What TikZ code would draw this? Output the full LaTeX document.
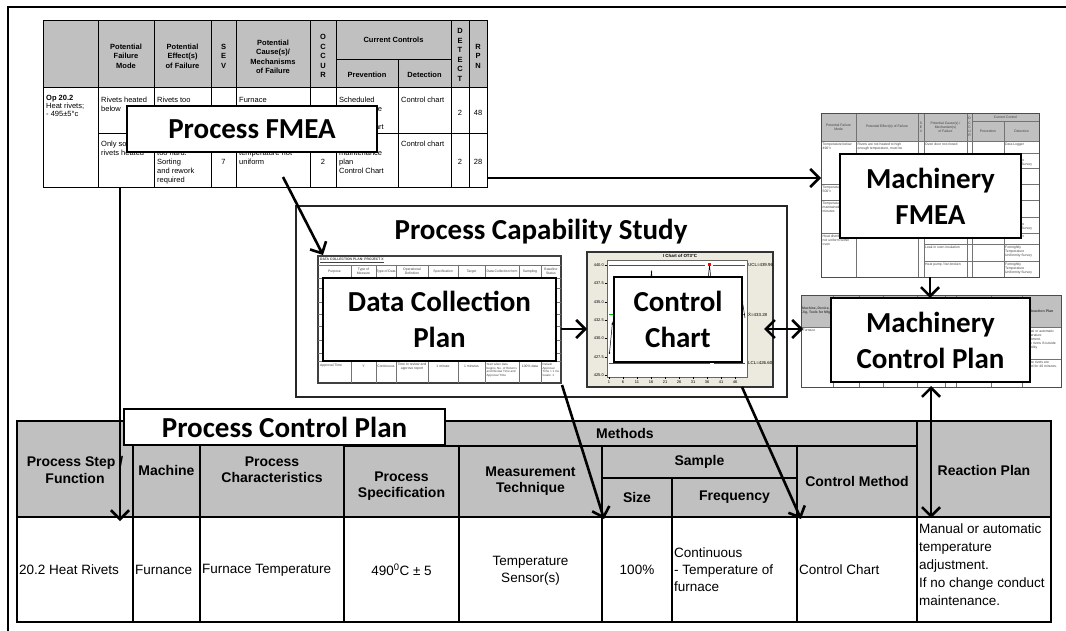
\documentclass[tikz,border=0pt]{standalone}
\usepackage{fontspec}
\setmainfont{Liberation Sans}
\newfontfamily\cfont{Carlito}
\usetikzlibrary{arrows.meta}
\newcommand\fsz[2]{\fontsize{#1}{#2}\selectfont}
\definecolor{hdr}{HTML}{C0C0C0}
\definecolor{beige}{HTML}{ECE9DF}
\begin{document}
\begin{tikzpicture}[x=1pt,y=-1pt,
 lbl/.style={draw=black,line width=1.8pt,fill=white,font=\cfont\bfseries\fsz{29}{36},align=center,inner sep=0pt},
 arr/.style={line width=2.6pt,-{Straight Barb[length=9pt,width=18pt]}},
 darr/.style={line width=2.6pt,{Straight Barb[length=9pt,width=18pt]}-{Straight Barb[length=9pt,width=18pt]}},
 tl/.style={line width=1pt,black},
 th/.style={line width=1.6pt,black},
 fh/.style={font=\bfseries\fsz{7.5}{9.5},align=center,inner sep=0pt},
 fb/.style={font=\fsz{7.5}{9},align=left,anchor=north west,inner sep=0pt},
 fc/.style={font=\fsz{7.5}{9},inner sep=0pt},
 ch/.style={font=\bfseries\fsz{14}{16.5},align=center,inner sep=0pt},
 cb/.style={font=\fsz{13.5}{17},align=left,inner sep=0pt},
 tiny/.style={font=\fsz{3.4}{4.1},align=center,inner sep=0pt,text=black!75},
 tinyl/.style={font=\fsz{3.4}{4.1},align=left,anchor=north west,inner sep=0pt,text=black!75},
 grid/.style={line width=0.4pt,black!55},
 bgline/.style={line width=1.2pt,black!75},
]
\useasboundingbox (0,0) rectangle (1066,631);
\fill[white] (0,0) rectangle (1066,631);

% outer frame
\draw[line width=1.3pt] (8,631) -- (8,7) -- (1066,7);

% ================= Process FMEA table =================
\fill[hdr] (43,21) rectangle (487,88);
\foreach \x in {98,154,211,236,310,336,451,469} \draw[tl] (\x,21) -- (\x,188);
\draw[tl] (398,60) -- (398,188);
\draw[tl] (336,60) -- (451,60);
\draw[tl] (43,88) -- (487,88);
\draw[tl] (98,134) -- (487,134);
\draw[tl] (43,21) rectangle (487,188);

\node[fh] (fh1) at (126,56) {Potential\\Failure\\Mode};
\node[fh] (fh2) at (182.5,56) {Potential\\Effect(s)\\of Failure};
\node[fh] (fh3) at (223.5,56) {S\\E\\V};
\node[fh] (fh4) at (273,57) {Potential\\Cause(s)/\\Mechanisms\\of Failure};
\node[fh] (fh5) at (323,56) {O\\C\\C\\U\\R};
\node[fh] (fh6) at (393.5,40) {Current Controls};
\node[fh] (fh7) at (367,75) {Prevention};
\node[fh] (fh8) at (424.5,75) {Detection};
\node[fh] (fh9) at (460,55) {D\\E\\T\\E\\C\\T};
\node[fh] (fh10) at (478,56) {R\\P\\N};

\node[fb,font=\fsz{7.5}{8}] (fb1) at (46,95.3) {\textbf{Op 20.2}\\Heat rivets;\\- 495±5°c};
\node[fb] (fb2) at (101,97.3) {Rivets heated\\below};
\node[fb] (fb3) at (157,97.3) {Rivets too};
\node[fb] (fb4) at (239,97.3) {Furnace};
\node[fb] (fb5) at (339,97.3) {Scheduled\\maintenance\\\phantom{plan}\\Control Chart};
\node[fb] (fb6) at (401,97.3) {Control chart};
\node[fc] (fb7) at (460,113) {2};
\node[fc] (fb8) at (478,113) {48};

\node[fb] (fc1) at (101,141.3) {Only some\\rivets heated};
\node[fb] (fc2) at (157,150.3) {too hard.\\Sorting\\and rework\\required};
\node[fc] (fc3) at (223.5,162) {7};
\node[fb] (fc4) at (239,150.3) {temperature not\\uniform};
\node[fc] (fc5) at (323,162) {2};
\node[fb] (fc6) at (339,150.3) {maintenance\\plan\\Control Chart};
\node[fb] (fc7) at (401,141.3) {Control chart};
\node[fc] (fc8) at (460,162) {2};
\node[fc] (fc9) at (478,162) {28};

\node[lbl,minimum width=250pt,minimum height=46pt] (pfmea) at (252,129) {Process FMEA};

% ================= Process Capability Study =================
\draw[line width=1.4pt,black!85] (296,206) rectangle (787,397);
\node[font=\cfont\bfseries\fsz{29}{36},inner sep=0pt] (pcs) at (541,232) {Process Capability Study};

% --- data collection plan sheet
\draw[bgline,fill=white] (318,256) rectangle (561,383);
\node[font=\bfseries\fsz{3.4}{4},anchor=west,inner sep=0pt,text=black!75] (dct) at (320,260.5) {\underline{DATA COLLECTION PLAN: PROJECT X}};
\draw[grid] (318,265) -- (561,265);
\foreach \x in {351,376,396,428,458,485,519,541} \draw[grid] (\x,265) -- (\x,383);
\foreach \y in {278,288,302,314,326,340,353,361} \draw[grid] (318,\y) -- (561,\y);
\node[tiny] (dh1) at (334.5,271.5) {Purpose};
\node[tiny] (dh2) at (363.5,271.5) {Type of\\Measure};
\node[tiny] (dh3) at (386,271.5) {Type of Data};
\node[tiny] (dh4) at (412,271.5) {Operational\\Definition};
\node[tiny] (dh5) at (443,271.5) {Specification};
\node[tiny] (dh6) at (471.5,271.5) {Target};
\node[tiny] (dh7) at (502,271.5) {Data Collection form};
\node[tiny] (dh8) at (530,271.5) {Sampling};
\node[tiny] (dh9) at (551,271.5) {Baseline\\Status};
\node[tinyl] (dr1) at (320,363.5) {Approval Time};
\node[tiny] (dr2) at (363.5,366) {Y};
\node[tiny] (dr3) at (386,366) {Continuous};
\node[tiny] (dr4) at (412,367) {Time to review and\\approve report};
\node[tiny] (dr5) at (443,366) {1 minute};
\node[tiny] (dr6) at (471.5,366) {1 minutes};
\node[tinyl,font=\fsz{3}{3.7}] (dr7) at (486.5,363) {Start when data\\begins, No. of Returns\\and Review Time and\\Approval Time};
\node[tiny] (dr8) at (530,366) {100\% data};
\node[tinyl,font=\fsz{3}{3.7}] (dr9) at (542.5,363) {Default\\Approval\\Time < 1 ms\\Goals: 1};
\node[lbl,minimum width=233pt,minimum height=83pt] (dcp) at (439.5,319.5) {Data Collection\\Plan};

% --- control chart sheet
\fill[beige] (587,252) rectangle (773,387);
\draw[line width=1.4pt,black!80] (587,252) rectangle (773,387);
\node[font=\bfseries\fsz{4.4}{5},inner sep=0pt] (cct) at (680,256) {I Chart of OT3°C};
\draw[line width=0.5pt,black!60,fill=white] (607,260) rectangle (747,377);
\foreach \v/\yy [count=\i] in {440.0/265,437.5/283.3,435.0/301.7,432.5/320,430.0/338.3,427.5/356.7,425.0/375} {
  \draw[line width=0.4pt] (604.5,\yy) -- (607,\yy);
  \node[font=\fsz{4}{4.5},anchor=east,inner sep=0pt] (yt\i) at (604,\yy) {\v};
}
\foreach \n [count=\i, evaluate=\n as \xx using 609+(\n-1)*2.8] in {1,6,11,16,21,26,31,36,41,46} {
  \draw[line width=0.4pt] (\xx,377) -- (\xx,379);
  \node[font=\fsz{4}{4.5},inner sep=0pt] (xt\i) at (\xx,382) {\n};
}
\draw[red,line width=0.9pt] (609,265.3) -- (705,265.3) (713,265.3) -- (745,265.3);
\draw[red,line width=0.9pt] (609,363.3) -- (710,363.3) (714,363.3) -- (745,363.3);
\draw[green!75!black,line width=0.9pt] (609,314.3) -- (745,314.3);
\node[font=\fsz{4.4}{5},anchor=west,inner sep=0pt] (ucl) at (748,265.3) {UCL=439.96};
\node[font=\fsz{4.4}{5},anchor=west,inner sep=0pt] (xbar) at (748,314.3) {\={X}=433.28};
\node[font=\fsz{4.4}{5},anchor=west,inner sep=0pt] (lcl) at (748,363.3) {LCL=426.60};
\draw[line width=0.5pt] (609.5,353) -- (612.3,324) -- (615,315);
\fill (609.5,353) circle (0.9) (612.3,324) circle (0.9);
\draw[line width=0.5pt] (649,290) -- (651.5,272) -- (654,295);
\fill (651.5,272) circle (0.9);
\draw[line width=0.5pt] (706,300) -- (709.5,265) -- (712,290);
\fill[red] (708,263.5) rectangle (711,266.5);
\draw[line width=0.5pt] (739,330) -- (742.5,302) -- (745,318);
\fill (742.5,302) circle (0.9);
\node[lbl,minimum width=128pt,minimum height=85pt] (cc) at (678,319.5) {Control\\Chart};

% ================= Machinery FMEA sheet =================
\draw[line width=0.8pt,black!70,fill=white] (821,113) rectangle (1039,277);
\fill[hdr] (821,113) rectangle (1039,141);
\foreach \x in {856,918,924,967,972} \draw[grid] (\x,113) -- (\x,277);
\draw[grid] (1004,121) -- (1004,277);
\draw[grid] (972,121) -- (1039,121);
\draw[grid] (821,141) -- (1039,141);
\foreach \y in {184,200,233} \draw[grid] (821,\y) -- (918,\y);
\foreach \y in {153,168,184,200,217,233} \draw[grid] (1004,\y) -- (1039,\y);
\foreach \y in {244,261} \draw[grid] (924,\y) -- (1039,\y);
\draw[line width=0.8pt,black!70] (821,113) rectangle (1039,277);
\node[tiny] (mh1) at (838.5,127) {Potential Failure\\Mode};
\node[tiny] (mh2) at (887,127) {Potential Effect(s) of Failure};
\node[tiny] (mh3) at (921,127) {S\\E\\V};
\node[tiny] (mh4) at (945.5,127) {Potential Cause(s) /\\Mechanism(s)\\of Failure};
\node[tiny] (mh5) at (969.5,127) {O\\C\\C\\U\\R};
\node[tiny] (mh6) at (1005.5,117) {Current Control};
\node[tiny] (mh7) at (988,131) {Prevention};
\node[tiny] (mh8) at (1021.5,131) {Detection};
\node[tinyl] (mb1) at (822.5,142.5) {Temperature below\\490°c};
\node[tinyl] (mb2) at (857.5,142.5) {Rivets are not heated to high\\enough temperature, must be};
\node[tinyl] (mb3) at (925,142.5) {Oven door not closed};
\node[tinyl] (mb4) at (1005,142.5) {Data Logger};
\node[tinyl] (mb5) at (822.5,185.5) {Temperature above\\500°c};
\node[tinyl] (mb6) at (822.5,201.5) {Temperature not\\maintained for 40\\minutes};
\node[tinyl] (mb7) at (822.5,234.5) {Heat distribution\\not uniform within\\oven};
\node[tinyl] (mb8) at (925,245.5) {Leak in oven insulation};
\node[tinyl] (mb9) at (925,262.5) {Heat pump / fan broken};
\node[tinyl] (md1) at (1005,154.5) {Fortnightly\\Temperature\\Uniformity Survey};
\node[tinyl] (md2) at (1005,169.5) {Fortnightly\\Inspections};
\node[tinyl] (md3) at (1005,185.5) {Fortnightly\\Inspections};
\node[tinyl] (md4) at (1005,201.5) {Fortnightly\\Inspections};
\node[tinyl] (md5) at (1005,218.5) {Fortnightly\\Temperature\\Uniformity Survey};
\node[tinyl] (md6) at (1005,234.5) {Data Logger};
\node[tinyl] (md7) at (1005,245.5) {Fortnightly\\Temperature\\Uniformity Survey};
\node[tinyl] (md8) at (1005,262.5) {Fortnightly\\Temperature\\Uniformity Survey};
\node[lbl,minimum width=181pt,minimum height=84pt] (mfmea) at (930.5,196) {Machinery\\FMEA};

% ================= Machinery Control Plan sheet =================
\draw[line width=0.8pt,black!70,fill=white] (801,295) rectangle (1061,387);
\fill[hdr] (801,295) rectangle (1061,327);
\draw[grid] (801,327) -- (1061,327);
\foreach \x in {833,859,883,917,945,956,991,1022} \draw[grid] (\x,295) -- (\x,387);
\draw[grid] (1022,359) -- (1061,359);
\draw[line width=0.8pt,black!70] (801,295) rectangle (1061,387);
\node[tinyl,font=\bfseries\fsz{3.4}{4.1},anchor=west] (ch1) at (802,311) {Machine, Device,\\Jig, Tools for Mfg};
\node[tiny,font=\bfseries\fsz{3.6}{4.1}] (ch2) at (1041.5,311) {Reaction Plan};
\node[tinyl] (cb1) at (802.5,329) {Furnace};
\node[tinyl] (cb2) at (1023,329.5) {Manual or automatic\\temperature\\adjustment.\\Scrap rivets if outside\\capability};
\node[tinyl] (cb3) at (1023,361) {Ensure rivets are\\heated for 40 minutes.};
\node[lbl,minimum width=199pt,minimum height=84pt] (mcp) at (930.5,340) {Machinery\\Control Plan};

% ================= Process Control Plan table =================
\fill[hdr] (17,421) rectangle (1051,517);
\draw[th] (17,517) -- (1051,517);
\foreach \x in {133,200,344,917} \draw[th] (\x,421) -- (\x,622);
\foreach \x in {459,602,797} \draw[th] (\x,446) -- (\x,622);
\draw[th] (672,478) -- (672,622);
\draw[th] (344,446) -- (917,446);
\draw[th] (602,478) -- (797,478);
\draw[th] (17,421) rectangle (1051,622);

\node[ch] (t1) at (75,470) {Process Step /\\Function};
\node[ch] (t2) at (166.5,470) {Machine};
\node[ch] (t3) at (272,470) {Process\\Characteristics};
\node[ch] (t4) at (401.5,486) {Process\\Specification};
\node[ch] (t5) at (530.5,481) {Measurement\\Technique};
\node[ch] (t6) at (625,433) {Methods};
\node[ch] (t7) at (699.5,462) {Sample};
\node[ch] (t8) at (637,497.5) {Size};
\node[ch] (t9) at (734.5,497.5) {Frequency};
\node[ch] (t10) at (857,481) {Control Method};
\node[ch] (t11) at (984,470) {Reaction Plan};

\node[cb,anchor=west] (r1) at (19,570) {20.2 Heat Rivets};
\node[cb,anchor=west] (r2) at (135,570) {Furnance};
\node[cb,anchor=west] (r3) at (202,570) {Furnace Temperature};
\node[cb] (r4) at (401.5,570) {490\textsuperscript{0}C ± 5};
\node[cb,align=center] (r5) at (530.5,571) {Temperature\\Sensor(s)};
\node[cb] (r6) at (637,570) {100\%};
\node[cb,anchor=west] (r7) at (674,570) {Continuous\\- Temperature of\\furnace};
\node[cb,anchor=west] (r8) at (799,570) {Control Chart};
\node[cb,anchor=north west,font=\fsz{13.5}{17.8}] (r9) at (919,524) {Manual or automatic\\temperature\\adjustment.\\If no change conduct\\maintenance.};

\node[lbl,minimum width=321pt,minimum height=36pt] (pcp) at (284.5,427) {Process Control Plan};

% ================= connectors =================
\coordinate (pfB) at (120,188);
\coordinate (pcpS) at (120,521);
\coordinate (pfC) at (283,177);
\coordinate (dcpNW) at (323,255);
\coordinate (pfE) at (487,178);
\coordinate (mfW) at (821,178);
\coordinate (dcpE) at (561,329);
\coordinate (ccW) at (587,329);
\coordinate (ccE) at (764,329);
\coordinate (mcW) at (803,329);
\coordinate (mfS) at (930,277);
\coordinate (mcN) at (930,298);
\coordinate (mcS) at (931,386);
\coordinate (rpN) at (931,518);
\coordinate (dcpSE) at (562,385);
\coordinate (sizeN) at (604,519);
\coordinate (ccS) at (742,387);
\coordinate (cmN) at (801,519);

\draw[arr] (pfB) -- (pcpS);
\draw[arr] (pfC) -- (dcpNW);
\draw[arr] (pfE) -- (mfW);
\draw[arr] (dcpE) -- (ccW);
\draw[darr] (ccE) -- (mcW);
\draw[arr] (mfS) -- (mcN);
\draw[darr] (mcS) -- (rpN);
\draw[arr] (dcpSE) -- (sizeN);
\draw[arr] (ccS) -- (cmN);
\end{tikzpicture}
\end{document}
